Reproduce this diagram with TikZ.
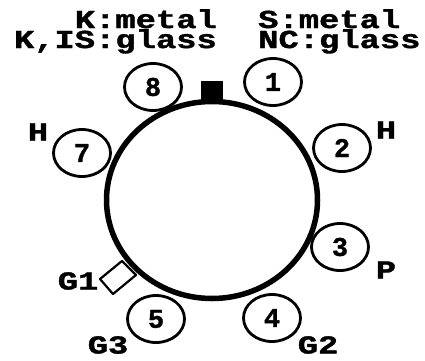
\documentclass[tikz,border=0pt]{standalone}
\usepackage{fontspec}
\usetikzlibrary{shapes.geometric}
\newfontfamily\courfont{Liberation Mono}[BoldFeatures={FakeBold=1.2}]
\newcommand{\wlab}[1]{\scalebox{1.3}[1]{#1}}
\tikzset{
  pinnode/.style={draw, ellipse, line width=2.8pt, minimum width=57pt, minimum height=47pt, inner sep=0pt,
    font=\courfont\bfseries\fontsize{27}{27}\selectfont},
  lab/.style={inner sep=0pt, font=\courfont\bfseries\fontsize{26}{20}\selectfont},
}
\begin{document}
\begin{tikzpicture}[x=1pt,y=1pt]
\useasboundingbox (0,0) rectangle (425,360);
% key at top
\fill (201,258) rectangle (223,279);
% G1 tab
\draw[line width=2.2pt, fill=white, line join=round] (100,81) -- (122,99) -- (136,85) -- (113,66) -- cycle;
% tube envelope
\node[draw, ellipse, line width=5.5pt, minimum width=211pt, minimum height=197pt] (tube) at (212,160) {};
% pins
\node[pinnode] (p1) at (273,278) {1};
\node[pinnode] (p2) at (342,212) {2};
\node[pinnode] (p3) at (340,113) {3};
\node[pinnode] (p4) at (272,42) {4};
\node[pinnode] (p5) at (156,41) {5};
\node[pinnode] (p7) at (82,207) {7};
\node[pinnode] (p8) at (153,273) {8};
% labels
\node[lab] (hl) at (38,228) {\wlab{H}};
\node[lab] (hr) at (386,230) {\wlab{H}};
\node[lab] (lp) at (386,90) {\wlab{P}};
\node[lab] (g2) at (318,15) {\wlab{G2}};
\node[lab] (g3) at (108,15) {\wlab{G3}};
\node[lab] (g1) at (78,79) {\wlab{G1}};
\node[lab, anchor=north east, align=right] (kl) at (217,351) {\wlab{K:metal}\\\wlab{K,IS:glass}};
\node[lab, anchor=north west, align=left] (sl) at (258,351) {\wlab{S:metal}\\\wlab{NC:glass}};
\end{tikzpicture}
\end{document}
